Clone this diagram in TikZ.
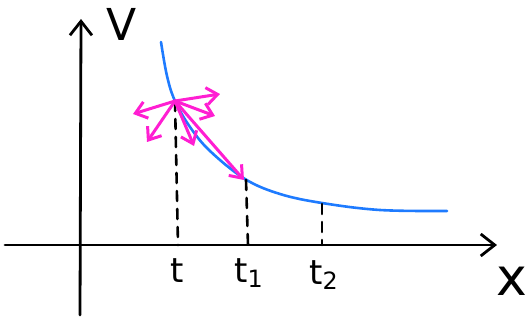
\documentclass[tikz,border=0pt]{standalone}
\usepackage{fontspec}
\setmainfont{DejaVu Sans}
\usepackage{tikz}
\usetikzlibrary{arrows.meta,positioning}
\definecolor{curveBlue}{HTML}{1E7BFF}
\definecolor{velPink}{HTML}{FF1ED2}
\begin{document}
\begin{tikzpicture}[x=0.5pt,y=-0.5pt,line cap=round,line join=round,
  axis/.style={line width=1.4pt,-{Straight Barb[length=7pt,width=11pt,line width=1.4pt]}},
  vel/.style={velPink,line width=1.5pt,-{Straight Barb[length=5.5pt,width=8.5pt,line width=1.5pt]}},
  drop/.style={line width=1.3pt,dash pattern=on 5pt off 4pt},
  lab/.style={inner sep=0pt}]
\useasboundingbox (0,0) rectangle (527,321);
\coordinate (ybot) at (80,315);
\coordinate (ytop) at (81,19);
\coordinate (xl) at (5,245);
\coordinate (xr) at (497,245);
\draw[axis] (ybot) -- (ytop);
\draw[axis] (xl) -- (xr);
\node[lab,font=\fontsize{22}{22}\selectfont] (vlab) at (122,24) {V};
\node[lab,font=\fontsize{26}{26}\selectfont] (xlab) at (512,281) {x};
\draw[curveBlue,line width=1.3pt] plot[smooth,tension=0.6] coordinates
  {(161,42) (167,76) (175,101) (190,127) (210,151) (245,179) (280,194) (322,203) (380,210) (447,211)};
\coordinate (p) at (175,101);
\coordinate (q1) at (246,180);
\coordinate (q2) at (322,204);
\coordinate (f0) at (178,245);
\coordinate (f1) at (248,245);
\coordinate (f2) at (322,245);
\draw[drop] (p) -- (f0);
\draw[drop] (q1) -- (f1);
\draw[drop] (q2) -- (f2);
\node[lab,font=\fontsize{17}{17}\selectfont] (t0) at (177,271) {t};
\node[lab,font=\fontsize{17}{17}\selectfont] (t1) at (249,273) {t\textsubscript{1}};
\node[lab,font=\fontsize{17}{17}\selectfont] (t2) at (324,275) {t\textsubscript{2}};
\coordinate (a1) at (220,94);
\coordinate (a2) at (215,116);
\coordinate (a3) at (133,114);
\coordinate (a4) at (147,142);
\coordinate (a5) at (194,146);
\coordinate (a6) at (244,180);
\foreach \e in {a1,a2,a3,a4,a5,a6}
  \draw[vel] (p) -- (\e);
\end{tikzpicture}
\end{document}
